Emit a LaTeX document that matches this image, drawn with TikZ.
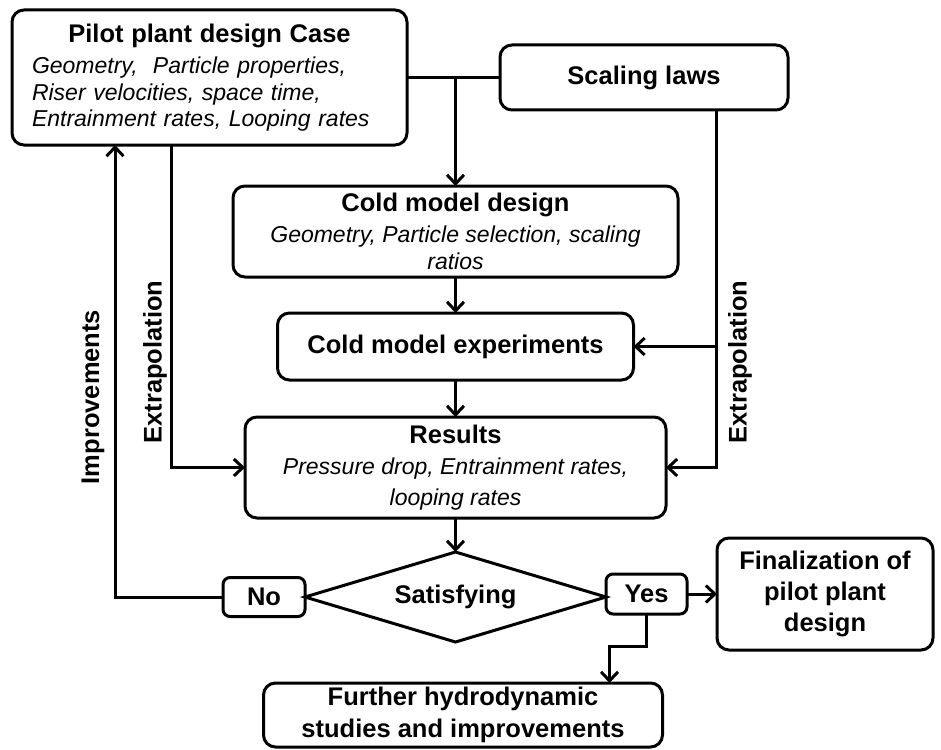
\documentclass[tikz,border=0pt]{standalone}
\usepackage{fontspec}
\setmainfont{Liberation Sans}
\usetikzlibrary{arrows.meta, positioning, shapes.geometric}
\newcommand{\notes}[1]{{\mdseries\itshape\fontsize{23}{27}\selectfont #1}}
\tikzset{
  stage/.style     = {draw, line width=3pt, rounded corners=12pt, align=center,
                      inner sep=0pt, outer sep=0pt,
                      font=\bfseries\fontsize{25.5}{30}\selectfont},
  answer/.style    = {stage, rounded corners=7pt},
  decision/.style  = {draw, diamond, line width=3pt, aspect=3.3, inner sep=0pt,
                      outer sep=0pt, font=\bfseries\fontsize{25.5}{30}\selectfont,
                      minimum width=301pt, minimum height=90pt},
  flow/.style      = {-, line width=3pt},
  arrowflow/.style = {flow, -{Straight Barb[length=9pt,width=17pt,line width=3pt]}},
  sidelabel/.style = {rotate=90, font=\bfseries\fontsize{25.5}{30}\selectfont},
}
\begin{document}
\begin{tikzpicture}[x=1pt, y=1pt]
\useasboundingbox (0,0) rectangle (941,-749);

% ===== design chain =====
\node[stage, minimum width=395pt, minimum height=135pt, text width=355pt, align=left,
      font=\mdseries\itshape\fontsize{23}{26.5}\selectfont]
  (pilot) at (209.5,-77.5)
  {\makebox[355pt]{\bfseries\upshape\fontsize{25.5}{30}\selectfont Pilot plant design Case}\\[5pt]
   Geometry,\ \ Particle properties,\\
   Riser velocities, space time,\\
   Entrainment rates, Looping rates};
\node[stage, minimum width=288pt, minimum height=65pt, right=93pt of pilot] (scaling) {Scaling laws};
\node[stage, minimum width=445pt, minimum height=91pt] (colddesign) at (455.5,-231.5)
  {Cold model design\\[1pt]
   \notes{Geometry, Particle selection, scaling}\\[-3pt]
   \notes{ratios}};
\node[stage, minimum width=356pt, minimum height=67pt, below=36pt of colddesign] (coldexp)
  {Cold model experiments};
\node[stage, minimum width=421pt, minimum height=101pt, below=37pt of coldexp] (results)
  {Results\\[1pt]
   \notes{Pressure drop, Entrainment rates,}\\[1pt]
   \notes{looping rates}};

% ===== decision =====
\node[decision, below=34pt of results] (sat) {Satisfying};
\node[answer, minimum width=82pt, minimum height=39pt, left=0pt of sat] (no) {No};
\node[answer, minimum width=81pt, minimum height=40pt, right=0pt of sat, yshift=3pt] (yes) {Yes};
\node[stage, minimum width=216pt, minimum height=112pt, right=30pt of yes] (fin)
  {Finalization of\\[1pt]pilot plant\\[1pt]design};
\node[stage, minimum width=399pt, minimum height=64pt, below=41pt of sat, xshift=7.5pt] (further)
  {Further hydrodynamic\\[2pt]studies and improvements};

% ===== connectors =====
\coordinate (extL) at ([xshift=-38.5pt]pilot.south);
\coordinate (impL) at ([xshift=-94.5pt]pilot.south);
\coordinate (extR) at ([xshift=72pt]scaling.south);
\coordinate (furtherIn) at ([xshift=146.5pt]further.north);

\draw[flow] (pilot.east) -- (scaling.west);
\draw[arrowflow] (pilot.east -| colddesign.north) -- (colddesign.north);
\draw[arrowflow] (colddesign.south) -- (coldexp.north);
\draw[arrowflow] (coldexp.south) -- (results.north);
\draw[arrowflow] (results.south) -- (sat.north);
\draw[arrowflow] (extL) |- (results.west);
\draw[arrowflow] (extR) |- (coldexp.east);
\draw[arrowflow] (extR) |- (results.east);
\draw[arrowflow] (no.west) -| (impL);
\draw[arrowflow] (yes.east) -- (fin.west);
\draw[arrowflow] (yes.south) -- ++(0,-32) -| (furtherIn);

% ===== side labels =====
\node[sidelabel] (extLlab) at (155,-362) {Extrapolation};
\node[sidelabel] (extRlab) at (740,-362) {Extrapolation};
\node[sidelabel] (implab)  at (93,-397)  {Improvements};

\end{tikzpicture}
\end{document}
